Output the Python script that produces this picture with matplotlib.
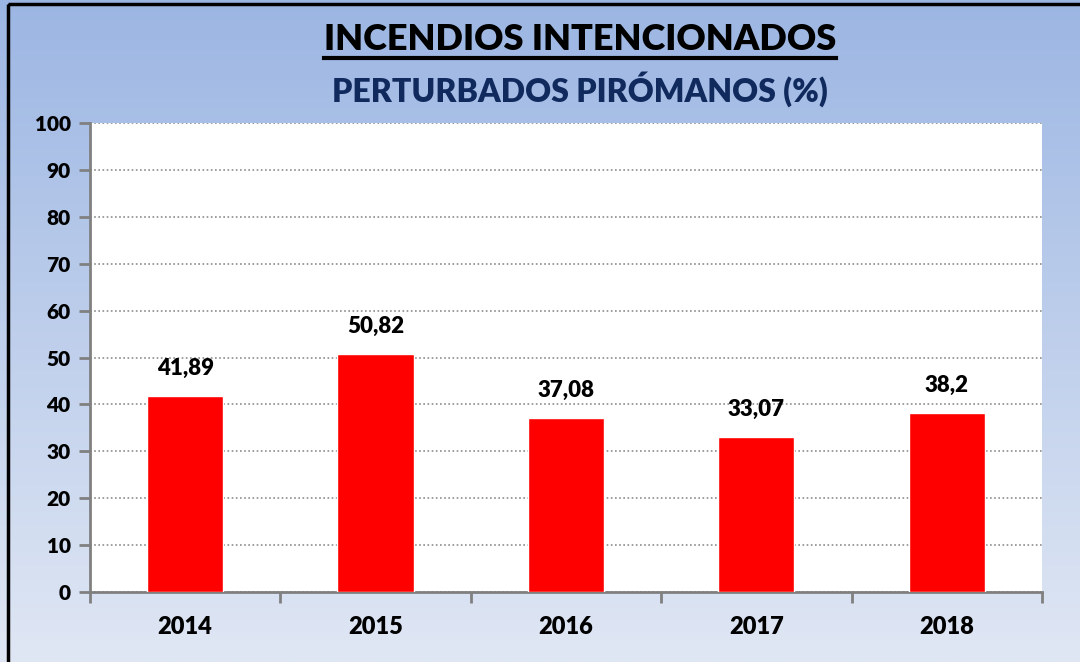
import numpy as np
import matplotlib.pyplot as plt
from matplotlib.colors import LinearSegmentedColormap
from matplotlib.patches import Rectangle
from matplotlib.lines import Line2D

years = ['2014', '2015', '2016', '2017', '2018']
valores = [41.89, 50.82, 37.08, 33.07, 38.2]
etiquetas = ['41,89', '50,82', '37,08', '33,07', '38,2']

plt.rcParams['font.family'] = ['Lato', 'DejaVu Sans']
PESO = 'heavy'

fig = plt.figure(figsize=(10.8, 6.62), dpi=100)

# fondo degradado (azul arriba, claro abajo)
bg = fig.add_axes([0, 0, 1, 1], zorder=0)
cmap = LinearSegmentedColormap.from_list('fondo', ['#9cb6e3', '#e0e7f4'])
bg.imshow(np.linspace(0, 1, 256).reshape(-1, 1), aspect='auto', cmap=cmap,
          extent=[0, 1, 1, 0], origin='upper')
bg.set_xlim(0, 1)
bg.set_ylim(1, 0)
bg.axis('off')
bg.add_patch(Rectangle((8 / 1080, 4 / 662), 1.2, 1.2, fill=False,
                       edgecolor='black', linewidth=2.5))

ax = fig.add_axes([0.0833, 0.1057, 0.8815, 0.7085], zorder=1)
ax.set_facecolor('white')
x = np.arange(len(years))
ax.bar(x, valores, width=0.4, color='#ff0000', edgecolor='white',
       linewidth=1, zorder=3)
for xi, v, t in zip(x, valores, etiquetas):
    ax.text(xi, v + 3.6, t, ha='center', va='bottom', fontsize=16,
            fontweight=PESO, color='black')

ax.set_xlim(-0.5, len(years) - 0.5)
ax.set_ylim(0, 100)
ax.set_yticks(np.arange(0, 101, 10))
ax.yaxis.grid(True, linestyle=(0, (1, 1.5)), color='#8c8c8c', linewidth=1.2,
              zorder=0)
ax.set_axisbelow(True)
ax.set_xticks(np.arange(-0.5, len(years), 1))
ax.set_xticklabels([])
ax.set_xticks(x, minor=True)
ax.set_xticklabels(years, minor=True)
ax.tick_params(axis='x', which='minor', length=0, pad=17, labelsize=17)
ax.tick_params(axis='x', which='major', length=8, width=2, color='#808080',
               direction='out')
ax.tick_params(axis='y', length=8, width=2, color='#808080', labelsize=15,
               pad=6)
for lbl in ax.get_xticklabels(minor=True) + ax.get_yticklabels():
    lbl.set_fontweight(PESO)
for s in ['top', 'right']:
    ax.spines[s].set_visible(False)
for s in ['left', 'bottom']:
    ax.spines[s].set_color('#808080')
    ax.spines[s].set_linewidth(2)

xc = 580 / 1080
t1 = fig.text(xc, 1 - 40 / 662, 'INCENDIOS INTENCIONADOS', ha='center',
              va='center', fontsize=26, fontweight=PESO, color='black')
fig.text(xc, 1 - 89 / 662, 'PERTURBADOS PIRÓMANOS (%)', ha='center',
         va='center', fontsize=23, fontweight=PESO, color='#102a5e')

# subrayado del titulo
fig.canvas.draw()
bb = t1.get_window_extent().transformed(fig.transFigure.inverted())
yl = bb.y0 - 0.002
fig.add_artist(Line2D([bb.x0, bb.x1], [yl, yl], color='black', linewidth=3,
                      transform=fig.transFigure))

fig.savefig('out.png', dpi=100)
